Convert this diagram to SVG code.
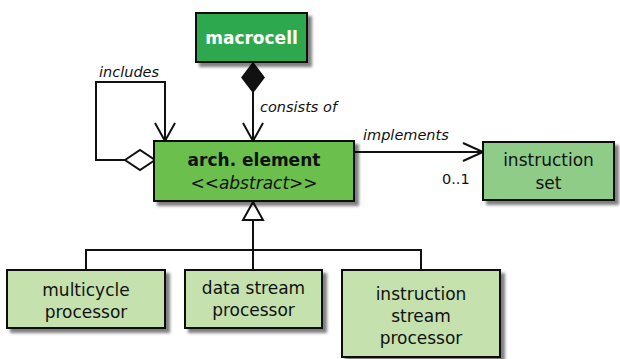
<svg xmlns="http://www.w3.org/2000/svg" width="620" height="359" viewBox="0 0 620 359">
  <defs>
    <filter id="shadow" x="-10%" y="-10%" width="130%" height="140%">
      <feDropShadow dx="4" dy="4" stdDeviation="1.8" flood-color="#000" flood-opacity="0.5"/>
    </filter>
  </defs>
  <style>
    .box { stroke: #111; stroke-width: 2; filter: url(#shadow); }
    .t { font-family: "DejaVu Sans", Verdana, sans-serif; font-size: 17px; fill: #111; text-anchor: middle; }
    .b { font-weight: bold; }
    .lbl { font-family: "DejaVu Sans", Verdana, sans-serif; font-size: 14.5px; font-style: italic; fill: #111; }
    .mult { font-family: "DejaVu Sans", Verdana, sans-serif; font-size: 14.5px; fill: #111; }
    .ln { fill: none; stroke: #111; stroke-width: 2; }
  </style>

  <g id="connectors">
    <!-- composition: macrocell consists of arch. element -->
    <line class="ln" x1="253" y1="92" x2="253" y2="141"/>
    <polygon points="253,63 264,77.5 253,92 242,77.5" fill="#111" stroke="#111" stroke-width="1.5"/>
    <polyline class="ln" points="243,123 253,141 263,123"/>
    <text class="lbl" x="260" y="112">consists of</text>

    <!-- aggregation: arch. element includes itself -->
    <polyline class="ln" points="125,160 96,160 96,82 165,82 165,141"/>
    <polygon points="125,160 140,150 155,160 140,170" fill="#fff" stroke="#111" stroke-width="2"/>
    <polyline class="ln" points="155,123 165,141 175,123"/>
    <text class="lbl" x="99" y="77">includes</text>

    <!-- association: implements instruction set -->
    <line class="ln" x1="354" y1="152" x2="483" y2="152"/>
    <polyline class="ln" points="463,143 483,152 463,161"/>
    <text class="lbl" x="363" y="140">implements</text>
    <text class="mult" x="442" y="184">0..1</text>

    <!-- generalization -->
    <polyline class="ln" points="86,270 86,250 421,250 421,270"/>
    <line class="ln" x1="253" y1="220" x2="253" y2="270"/>
    <polygon points="253,202 263,220 243,220" fill="#fff" stroke="#111" stroke-width="2"/>
  </g>

  <g id="macrocell">
    <rect class="box" x="196" y="13" width="111" height="49" fill="#2fa84f"/>
    <text class="t b" x="251.5" y="44" style="fill:#fff">macrocell</text>
  </g>

  <g id="arch-element">
    <rect class="box" x="154" y="141" width="200" height="60" fill="#6abf4e"/>
    <text class="t b" x="254" y="166">arch. element</text>
    <text class="t" x="254" y="189" font-style="italic">&lt;&lt;abstract&gt;&gt;</text>
  </g>

  <g id="instruction-set">
    <rect class="box" x="483" y="142" width="131" height="58" fill="#8fcc88"/>
    <text class="t" x="548.5" y="166">instruction</text>
    <text class="t" x="548.5" y="189">set</text>
  </g>

  <g id="multicycle-processor">
    <rect class="box" x="7" y="270" width="158" height="58" fill="#c4e1ae"/>
    <text class="t" x="86" y="296">multicycle</text>
    <text class="t" x="86" y="318">processor</text>
  </g>

  <g id="data-stream-processor">
    <rect class="box" x="185" y="270" width="137" height="58" fill="#c4e1ae"/>
    <text class="t" x="253.5" y="294">data stream</text>
    <text class="t" x="253.5" y="316">processor</text>
  </g>

  <g id="instruction-stream-processor">
    <rect class="box" x="342" y="270" width="158" height="87" fill="#c4e1ae"/>
    <text class="t" x="421" y="300">instruction</text>
    <text class="t" x="421" y="322">stream</text>
    <text class="t" x="421" y="344">processor</text>
  </g>
</svg>
